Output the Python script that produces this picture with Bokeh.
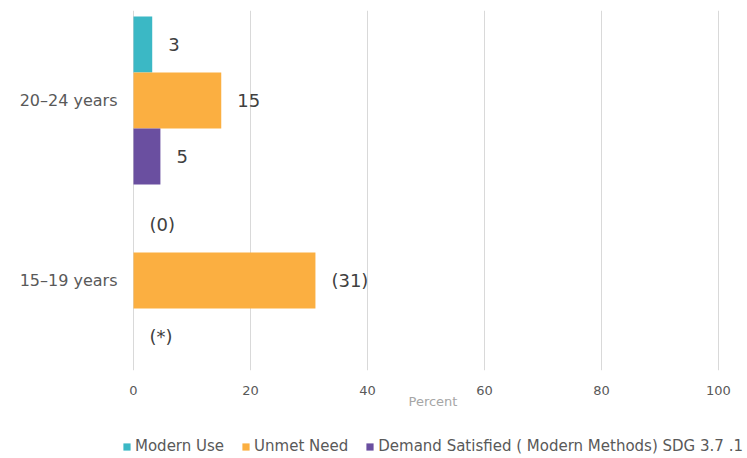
from bokeh.plotting import figure
from bokeh.layouts import column
from bokeh.models import ColumnDataSource, FactorRange, Range1d, Legend, LegendItem, FixedTicker
from bokeh.transform import dodge
from bokeh.core.properties import value
from bokeh.embed import file_html
from bokeh.resources import INLINE

ages = ["15–19 years", "20–24 years"]
modern_use = [0, 3.2]
unmet_need = [31.1, 15.0]
demand_satisfied = [0, 4.6]
modern_use_labels = ["(0)", "3"]
unmet_need_labels = ["(31)", "15"]
demand_satisfied_labels = ["(*)", "5"]
series_names = ["Modern Use", "Unmet Need", "Demand Satisfied ( Modern Methods) SDG 3.7 .1"]
colors = ["#3BB8C5", "#FBAF41", "#6A4FA0"]
x_ticks = [0, 20, 40, 60, 80, 100]

FONT = "DejaVu Sans"
GRAY = "#595959"

# frame spans x pixels 118..747 so 0 -> 133 and 100 -> 718
PX = (718 - 133) / 100.0
x_start = -(133 - 118) / PX
x_end = 100 + (747 - 718) / PX

p = figure(width=747, height=412, y_range=FactorRange(*ages, range_padding=0),
           x_range=Range1d(x_start, x_end), output_backend="svg", toolbar_location=None,
           min_border_left=118, min_border_right=0, min_border_top=10, min_border_bottom=42)
p.outline_line_color = None

src = ColumnDataSource(dict(age=ages, mu=modern_use, un=unmet_need, ds=demand_satisfied,
                            mul=modern_use_labels, unl=unmet_need_labels, dsl=demand_satisfied_labels))

h = 0.311
offsets = [h, 0.0, -h]
cols = ["mu", "un", "ds"]
lcols = ["mul", "unl", "dsl"]
for off, c, lc, col in zip(offsets, cols, lcols, colors):
    p.hbar(y=dodge("age", off, range=p.y_range), right=c, left=0, height=h,
           fill_color=col, line_color=None, source=src)
    p.text(x=c, y=dodge("age", off, range=p.y_range), text=lc, source=src,
           x_offset=16, text_align="left", text_baseline="middle",
           text_font=value(FONT), text_font_size="18px", text_color="#404040")

p.xgrid.ticker = FixedTicker(ticks=x_ticks)
p.xaxis.ticker = FixedTicker(ticks=x_ticks)
p.xgrid.grid_line_color = "#D9D9D9"
p.xgrid.grid_line_width = 1
p.ygrid.grid_line_color = None

p.xaxis.axis_line_color = None
p.xaxis.major_tick_line_color = None
p.xaxis.minor_tick_line_color = None
p.xaxis.major_label_text_font = FONT
p.xaxis.major_label_text_font_size = "13px"
p.xaxis.major_label_text_color = GRAY
p.xaxis.major_label_standoff = 9
p.xaxis.axis_label = "Percent"
p.xaxis.axis_label_text_font = FONT
p.xaxis.axis_label_text_font_size = "13px"
p.xaxis.axis_label_text_font_style = "normal"
p.xaxis.axis_label_text_color = "#A6A6A6"
p.xaxis.axis_label_standoff = -4

p.yaxis.axis_line_color = None
p.yaxis.major_tick_line_color = None
p.yaxis.minor_tick_line_color = None
p.yaxis.major_tick_out = 0
p.yaxis.major_label_text_font = FONT
p.yaxis.major_label_text_font_size = "16px"
p.yaxis.major_label_text_color = GRAY
p.yaxis.major_label_standoff = 1

# legend strip below the chart (its bars lie outside its visible x range, off to the right)
pl = figure(width=747, height=46, output_backend="svg", toolbar_location=None,
            x_range=Range1d(-1001, -1000), y_range=FactorRange(*ages),
            x_axis_location=None, y_axis_location=None,
            min_border_left=118, min_border_right=0, min_border_top=0, min_border_bottom=0)
pl.grid.grid_line_color = None
pl.outline_line_color = None
leg_renderers = [pl.hbar(y="age", right=c, left=0, height=h, fill_color=col, line_color=None, source=src)
                 for c, col in zip(cols, colors)]

legend = Legend(items=[LegendItem(label=n, renderers=[r]) for n, r in zip(series_names, leg_renderers)],
                orientation="horizontal", location=(4, 3),
                label_text_font=FONT, label_text_font_size="15px", label_text_color=GRAY,
                glyph_width=9, glyph_height=9, spacing=17, label_standoff=4,
                border_line_color=None, background_fill_alpha=0, margin=0, padding=4)
pl.add_layout(legend, "center")

layout = column(p, pl, spacing=0)
open("out.html", "w").write(file_html(layout, INLINE))
